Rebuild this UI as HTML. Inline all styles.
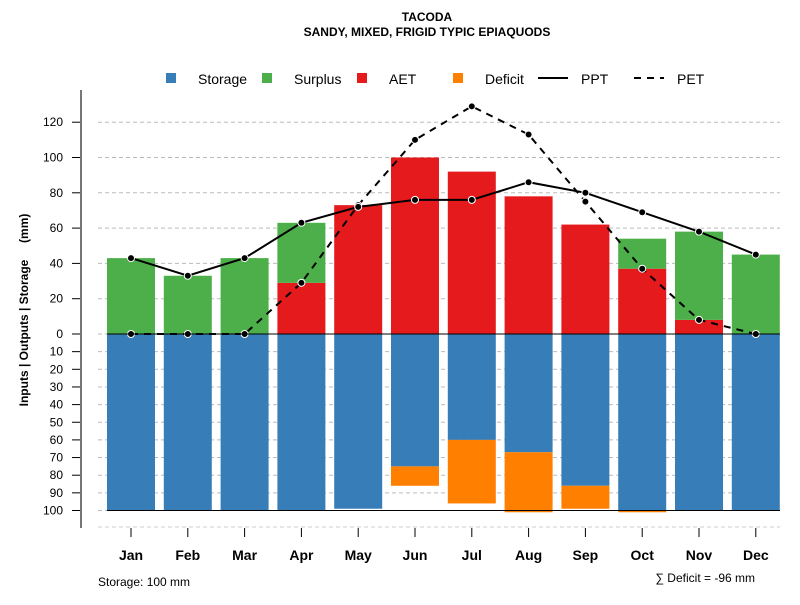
<!DOCTYPE html>
<html><head><meta charset="utf-8"><style>
body{margin:0;background:#fff;}
svg{font-family:"Liberation Sans",sans-serif;}
</style></head><body>
<svg id="chart" width="800" height="600" xmlns="http://www.w3.org/2000/svg">
<text x="427" y="21" text-anchor="middle" font-size="12" font-weight="bold">TACODA</text>
<text x="427" y="36" text-anchor="middle" font-size="12" font-weight="bold">SANDY, MIXED, FRIGID TYPIC EPIAQUODS</text>
<g font-size="14">
<g><rect x="166" y="73" width="10" height="10" fill="#377eb8"/><text x="198" y="84">Storage</text></g>
<g><rect x="262" y="73" width="10" height="10" fill="#4daf4a"/><text x="294" y="84">Surplus</text></g>
<g><rect x="357" y="73" width="10" height="10" fill="#e41a1c"/><text x="389" y="84">AET</text></g>
<g><rect x="453" y="73" width="10" height="10" fill="#ff7f00"/><text x="485" y="84">Deficit</text></g>
<g><line x1="538" y1="78" x2="568" y2="78" stroke="#000" stroke-width="2"/><text x="581" y="84">PPT</text></g>
<g><line x1="634" y1="78" x2="664" y2="78" stroke="#000" stroke-width="2" stroke-dasharray="7,6"/><text x="677" y="84">PET</text></g>
</g>
<text transform="translate(28,310) rotate(-90)" text-anchor="middle" font-size="12" font-weight="bold" style="white-space:pre">Inputs | Outputs | Storage     (mm)</text>
<g id="grid"></g><g id="bars"></g><g id="lines"></g><g id="axes"></g>
<text x="98" y="586" font-size="12">Storage: 100 mm</text>
<text x="755" y="582" text-anchor="end" font-size="12">∑ Deficit = -96 mm</text>
</svg>
<script>
const months=["Jan","Feb","Mar","Apr","May","Jun","Jul","Aug","Sep","Oct","Nov","Dec"];
const ppt=[43,33,43,63,72,76,76,86,80,69,58,45];
const pet=[0,0,0,29,73,110,129,113,75,37,8,0];
const aet=[0,0,0,29,73,100,92,78,62,37,8,0];
const surplus=[43,33,43,34,0,0,0,0,0,17,50,45];
const storage=[100,100,100,100,99,75,60,67,86,100,100,100];
const deficit=[0,0,0,0,0,11,36,34,13,1,0,0];
const upTicks=[0,20,40,60,80,100,120];
const downTicks=[10,20,30,40,50,60,70,80,90,100];
const NS="http://www.w3.org/2000/svg";
const y0=334,k=1.765;
const yUp=v=>y0-v*k, yDn=v=>y0+v*k;
const xC=i=>131+i*56.8;
function mk(p,t,a){const e=document.createElementNS(NS,t);for(const n in a)e.setAttribute(n,a[n]);document.getElementById(p).appendChild(e);return e;}
upTicks.forEach(v=>{
 const g=mk('grid','line',{x1:98,x2:780,y1:yUp(v),y2:yUp(v),stroke:'#bbb','stroke-dasharray':'4,3'});
 
 const t=mk('axes','line',{x1:72,x2:81,y1:yUp(v),y2:yUp(v),stroke:'#000'});
 
 const l=mk('axes','text',{x:63,y:yUp(v)+4,'text-anchor':'end','font-size':'12'});l.textContent=v;
 
});
downTicks.forEach(v=>{
 const g=mk('grid','line',{x1:98,x2:780,y1:yDn(v),y2:yDn(v),stroke:'#bbb','stroke-dasharray':'4,3'});
 
 const t=mk('axes','line',{x1:72,x2:81,y1:yDn(v),y2:yDn(v),stroke:'#000'});
 
 const l=mk('axes','text',{x:63,y:yDn(v)+4,'text-anchor':'end','font-size':'12'});l.textContent=v;
 
});
const bg=mk('grid','line',{x1:98,x2:780,y1:527,y2:527,stroke:'#ccc','stroke-dasharray':'4,3'});

const bw=48;
months.forEach((m,i)=>{
 const x=xC(i)-bw/2;
 const s=mk('bars','rect',{x:x,y:y0,width:bw,height:storage[i]*k,fill:'#377eb8'});
 
 if(deficit[i]>0){const d=mk('bars','rect',{x:x,y:yDn(storage[i]),width:bw,height:deficit[i]*k,fill:'#ff7f00'});
 }
 if(aet[i]>0){const a=mk('bars','rect',{x:x,y:yUp(aet[i]),width:bw,height:aet[i]*k,fill:'#e41a1c'});
 }
 if(surplus[i]>0){const u=mk('bars','rect',{x:x,y:yUp(aet[i]+surplus[i]),width:bw,height:surplus[i]*k,fill:'#4daf4a'});
 }
 const t=mk('axes','line',{x1:xC(i),x2:xC(i),y1:528,y2:537,stroke:'#000'});
 
 const l=mk('axes','text',{x:xC(i),y:560,'text-anchor':'middle','font-size':'14','font-weight':'bold'});l.textContent=m;
 
});
const zl=mk('axes','line',{x1:107,x2:780,y1:y0,y2:y0,stroke:'#000'});

const bl=mk('axes','line',{x1:107,x2:780,y1:yDn(100),y2:yDn(100),stroke:'#000'});

const ax=mk('axes','line',{x1:81,x2:81,y1:90,y2:528,stroke:'#777','stroke-width':2});

function series(vals,dash,name){
 const p=mk('lines','polyline',{points:vals.map((v,i)=>xC(i)+','+yUp(v)).join(' '),fill:'none',stroke:'#000','stroke-width':2,'stroke-dasharray':dash});
 
 vals.forEach((v,i)=>{const c=mk('lines','circle',{cx:xC(i),cy:yUp(v),r:3.5,fill:'#000',stroke:'#fff','stroke-width':1});
 });
}
series(pet,'7,6','pet');
series(ppt,'none','ppt');
</script>
</body></html>
